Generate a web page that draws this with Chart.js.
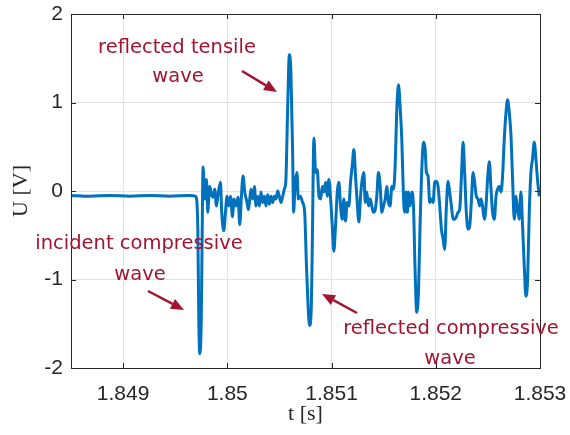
<!DOCTYPE html>
<html>
<head>
<meta charset="utf-8">
<script src="https://cdn.jsdelivr.net/npm/chart.js@4/dist/chart.umd.min.js"></script>
<style>
  html, body { margin: 0; padding: 0; background: #fff; }
  #wrap { width: 570px; height: 435px; }
</style>
</head>
<body>
<div id="wrap"><canvas id="waveChart" width="570" height="435"></canvas></div>
<script>
// ── Data ───────────────────────────────────────────────────────
const timeS = [
  1.848500, 1.848682, 1.848874, 1.849065, 1.849257, 1.849448, 1.849640, 1.849697,
  1.849717, 1.849726, 1.849736, 1.849750, 1.849760, 1.849767, 1.849784, 1.849800,
  1.849812, 1.849831, 1.849848, 1.849863, 1.849879, 1.849896, 1.849911, 1.849934,
  1.849946, 1.849966, 1.849982, 1.849997, 1.850014, 1.850030, 1.850049, 1.850064,
  1.850081, 1.850103, 1.850119, 1.850135, 1.850151, 1.850167, 1.850189, 1.850202,
  1.850212, 1.850227, 1.850243, 1.850260, 1.850275, 1.850291, 1.850308, 1.850323,
  1.850339, 1.850356, 1.850371, 1.850387, 1.850403, 1.850419, 1.850435, 1.850451,
  1.850467, 1.850483, 1.850499, 1.850515, 1.850531, 1.850547, 1.850562, 1.850579,
  1.850595, 1.850610, 1.850627, 1.850636, 1.850649, 1.850668, 1.850681, 1.850700,
  1.850722, 1.850742, 1.850758, 1.850773, 1.850789, 1.850806, 1.850815, 1.850831,
  1.850847, 1.850863, 1.850879, 1.850895, 1.850911, 1.850926, 1.850943, 1.850959,
  1.850974, 1.850991, 1.851007, 1.851022, 1.851038, 1.851055, 1.851070, 1.851086,
  1.851103, 1.851118, 1.851134, 1.851150, 1.851166, 1.851182, 1.851198, 1.851214,
  1.851230, 1.851246, 1.851262, 1.851278, 1.851294, 1.851310, 1.851323, 1.851338,
  1.851355, 1.851371, 1.851386, 1.851402, 1.851419, 1.851434, 1.851450, 1.851467,
  1.851482, 1.851498, 1.851515, 1.851530, 1.851546, 1.851562, 1.851578, 1.851594,
  1.851610, 1.851626, 1.851642, 1.851658, 1.851674, 1.851690, 1.851702, 1.851716,
  1.851728, 1.851738, 1.851754, 1.851769, 1.851786, 1.851802, 1.851817, 1.851834,
  1.851850, 1.851872, 1.851884, 1.851898, 1.851910, 1.851926, 1.851942, 1.851958,
  1.851974, 1.851990, 1.852006, 1.852022, 1.852038, 1.852054, 1.852070, 1.852085,
  1.852102, 1.852118, 1.852133, 1.852150, 1.852166, 1.852181, 1.852198, 1.852214,
  1.852229, 1.852245, 1.852262, 1.852277, 1.852293, 1.852310, 1.852325, 1.852341,
  1.852358, 1.852373, 1.852389, 1.852405, 1.852421, 1.852434, 1.852449, 1.852466,
  1.852482, 1.852497, 1.852514, 1.852530, 1.852545, 1.852562, 1.852578, 1.852593,
  1.852609, 1.852626, 1.852641, 1.852657, 1.852674, 1.852689, 1.852705, 1.852722,
  1.852737, 1.852753, 1.852769, 1.852785, 1.852801, 1.852817, 1.852833, 1.852849,
  1.852865, 1.852881, 1.852897, 1.852913, 1.852928, 1.852945, 1.852961, 1.852976,
  1.852993
];

const voltageU = [
  -0.05, -0.06, -0.05, -0.06, -0.05, -0.06, -0.05, -0.06,
  -0.43, -1.44, -1.84, -1.44, -0.32,  0.27, -0.09,  0.13,
  -0.24,  0.05, -0.04, -0.07,  0.02, -0.17, -0.04,  0.10,
  -0.24, -0.45, -0.24, -0.06, -0.17, -0.06, -0.29, -0.09,
  -0.17, -0.07, -0.38, -0.06,  0.17, -0.01, -0.13, -0.21,
  -0.13,  0.02, -0.09,  0.05, -0.17, -0.06, -0.17, -0.01,
  -0.13, -0.06, -0.17, -0.04, -0.15, -0.06, -0.13, -0.06,
  -0.09,  0.00, -0.06, -0.13, -0.06,  0.02,  0.13,  0.95,
   1.54,  1.34,  0.39, -0.24,  0.05,  0.21, -0.09, -0.06,
  -0.13, -0.24, -0.80, -1.25, -1.52, -1.30, -0.62,  0.60,
   0.21,  0.24, -0.06, -0.09,  0.05, -0.01,  0.10, -0.06,
   0.13, -0.09, -0.40, -0.68, -0.40, -0.01,  0.10, -0.17,
  -0.32, -0.09, -0.34, -0.13, -0.17,  0.10,  0.28,  0.47,
   0.17, -0.13, -0.35, -0.06,  0.13,  0.21, -0.13, -0.01,
  -0.17, -0.09, -0.17, -0.24, -0.21, -0.06,  0.21,  0.05,
  -0.24, -0.17, -0.09,  0.05, -0.13, -0.17,  0.05,  0.02,
   0.28,  0.92,  1.20,  0.95,  0.58, -0.06, -0.24, -0.01,
  -0.24, -0.01, -0.17, -0.01, -0.17, -0.92, -1.37, -1.14,
  -0.35,  0.41,  0.55,  0.47,  0.21,  0.17, -0.13, -0.09,
  -0.13,  0.10,  0.11,  0.05, -0.17, -0.43, -0.54, -0.66,
  -0.17,  0.11, -0.01, -0.17, -0.32, -0.32, -0.29, -0.24,
  -0.21,  0.13,  0.55,  0.21, -0.24, -0.43, -0.40, -0.13,
   0.21,  0.10, -0.06, -0.09, -0.17, -0.09, -0.17, -0.32,
  -0.17,  0.13,  0.33,  0.02, -0.24, -0.32, -0.06,  0.02,
   0.05, -0.01,  0.17,  0.58,  0.89,  1.03,  0.89,  0.62,
   0.13, -0.32, -0.06, -0.21, -0.32, -0.01, -0.40, -0.85,
  -1.19, -1.00, -0.24,  0.21,  0.36,  0.55,  0.36,  0.13,
  -0.06
];

const xTickValues = [1.849, 1.850, 1.851, 1.852, 1.853];
const xTickLabels = ['1.849', '1.85', '1.851', '1.852', '1.853'];
const yTickValues = [-2, -1, 0, 1, 2];
const yTickLabels = ['-2', '-1', '0', '1', '2'];

// ── Annotations (text + arrows, in canvas pixels) ──────────────
const annoColor = '#A2142F';
const annoTexts = [
  { text: 'reflected tensile',     x: 177, y: 53 },
  { text: 'wave',                  x: 178, y: 82 },
  { text: 'incident compressive',  x: 139, y: 249 },
  { text: 'wave',                  x: 140, y: 280 },
  { text: 'reflected compressive', x: 451, y: 334 },
  { text: 'wave',                  x: 450, y: 364 },
];
const annoArrows = [
  { from: [242, 71],  to: [277, 92] },
  { from: [148, 291], to: [184, 310] },
  { from: [357, 313], to: [322, 294] },
];

// ── Plugins ─────────────────────────────────────────────────────
const boxPlugin = {
  id: 'boxPlugin',
  afterDatasetsDraw(chart) {
    const { ctx, chartArea: a, scales } = chart;
    const tick = 5;
    ctx.save();
    ctx.strokeStyle = '#262626';
    ctx.lineWidth = 1;
    ctx.beginPath();
    xTickValues.forEach(v => {
      const px = Math.round(scales.x.getPixelForValue(v)) + 0.5;
      ctx.moveTo(px, a.bottom); ctx.lineTo(px, a.bottom - tick);
      ctx.moveTo(px, a.top);    ctx.lineTo(px, a.top + tick);
    });
    yTickValues.forEach(v => {
      const py = Math.round(scales.y.getPixelForValue(v)) + 0.5;
      ctx.moveTo(a.left, py);  ctx.lineTo(a.left + tick, py);
      ctx.moveTo(a.right, py); ctx.lineTo(a.right - tick, py);
    });
    ctx.stroke();
    ctx.strokeRect(Math.round(a.left) + 0.5, Math.round(a.top) + 0.5,
                   Math.round(a.right - a.left), Math.round(a.bottom - a.top));
    ctx.restore();
  },
  afterDraw(chart) {
    const { ctx } = chart;
    ctx.save();
    ctx.fillStyle = annoColor;
    ctx.strokeStyle = annoColor;
    ctx.font = '19.5px "DejaVu Sans", Verdana, sans-serif';
    ctx.textAlign = 'center';
    ctx.textBaseline = 'alphabetic';
    annoTexts.forEach(t => ctx.fillText(t.text, t.x, t.y));

    ctx.lineWidth = 2.5;
    annoArrows.forEach(ar => {
      const [x0, y0] = ar.from, [x1, y1] = ar.to;
      const ang = Math.atan2(y1 - y0, x1 - x0);
      const hl = 13, hw = 5.5;
      const bx = x1 - hl * Math.cos(ang), by = y1 - hl * Math.sin(ang);
      ctx.beginPath();
      ctx.moveTo(x0, y0); ctx.lineTo(bx, by);
      ctx.stroke();
      ctx.beginPath();
      ctx.moveTo(x1, y1);
      ctx.lineTo(bx + hw * Math.sin(ang), by - hw * Math.cos(ang));
      ctx.lineTo(bx - hw * Math.sin(ang), by + hw * Math.cos(ang));
      ctx.closePath();
      ctx.fill();
    });
    ctx.restore();
  }
};

// ── Chart ───────────────────────────────────────────────────────
const points = timeS.map((t, i) => ({ x: t, y: voltageU[i] }));
const tickFont = { family: '"Liberation Sans", Arial, Helvetica, sans-serif', size: 21 };
const titleFont = { family: '"Liberation Serif", "Times New Roman", serif', size: 22 };

new Chart(document.getElementById('waveChart').getContext('2d'), {
  type: 'line',
  data: {
    datasets: [{
      data: points,
      borderColor: '#0072BD',
      borderWidth: 3,
      pointRadius: 0,
      fill: false,
      cubicInterpolationMode: 'monotone',
    }]
  },
  options: {
    responsive: false,
    animation: false,
    layout: { padding: { left: 0, right: 30, top: 14, bottom: 0 } },
    plugins: { legend: { display: false }, tooltip: { enabled: false } },
    scales: {
      x: {
        type: 'linear',
        min: 1.8485,
        max: 1.853,
        afterBuildTicks: s => { s.ticks = xTickValues.map(v => ({ value: v })); },
        afterFit: s => { s.height = 67; s.paddingLeft = 0; s.paddingRight = 0; },
        ticks: {
          font: tickFont,
          color: '#262626',
          padding: 14,
          maxRotation: 0,
          autoSkip: false,
          callback: (v) => xTickLabels[xTickValues.indexOf(v)] ?? '',
        },
        grid: { color: '#e3e3e3', lineWidth: 1, drawTicks: false },
        border: { display: false },
        title: { display: true, text: 't [s]', font: titleFont, color: '#262626', padding: { top: 0, bottom: 8 } },
      },
      y: {
        type: 'linear',
        min: -2,
        max: 2,
        afterBuildTicks: s => { s.ticks = yTickValues.map(v => ({ value: v })); },
        afterFit: s => { s.width = 71; s.paddingTop = 0; s.paddingBottom = 0; },
        ticks: {
          font: tickFont,
          color: '#262626',
          padding: 8,
          autoSkip: false,
          callback: (v) => yTickLabels[yTickValues.indexOf(v)] ?? '',
        },
        grid: { color: '#e3e3e3', lineWidth: 1, drawTicks: false },
        border: { display: false },
        title: { display: true, text: 'U [V]', font: titleFont, color: '#262626', padding: { top: 8, bottom: 0 } },
      },
    },
  },
  plugins: [boxPlugin],
});
</script>
</body>
</html>
